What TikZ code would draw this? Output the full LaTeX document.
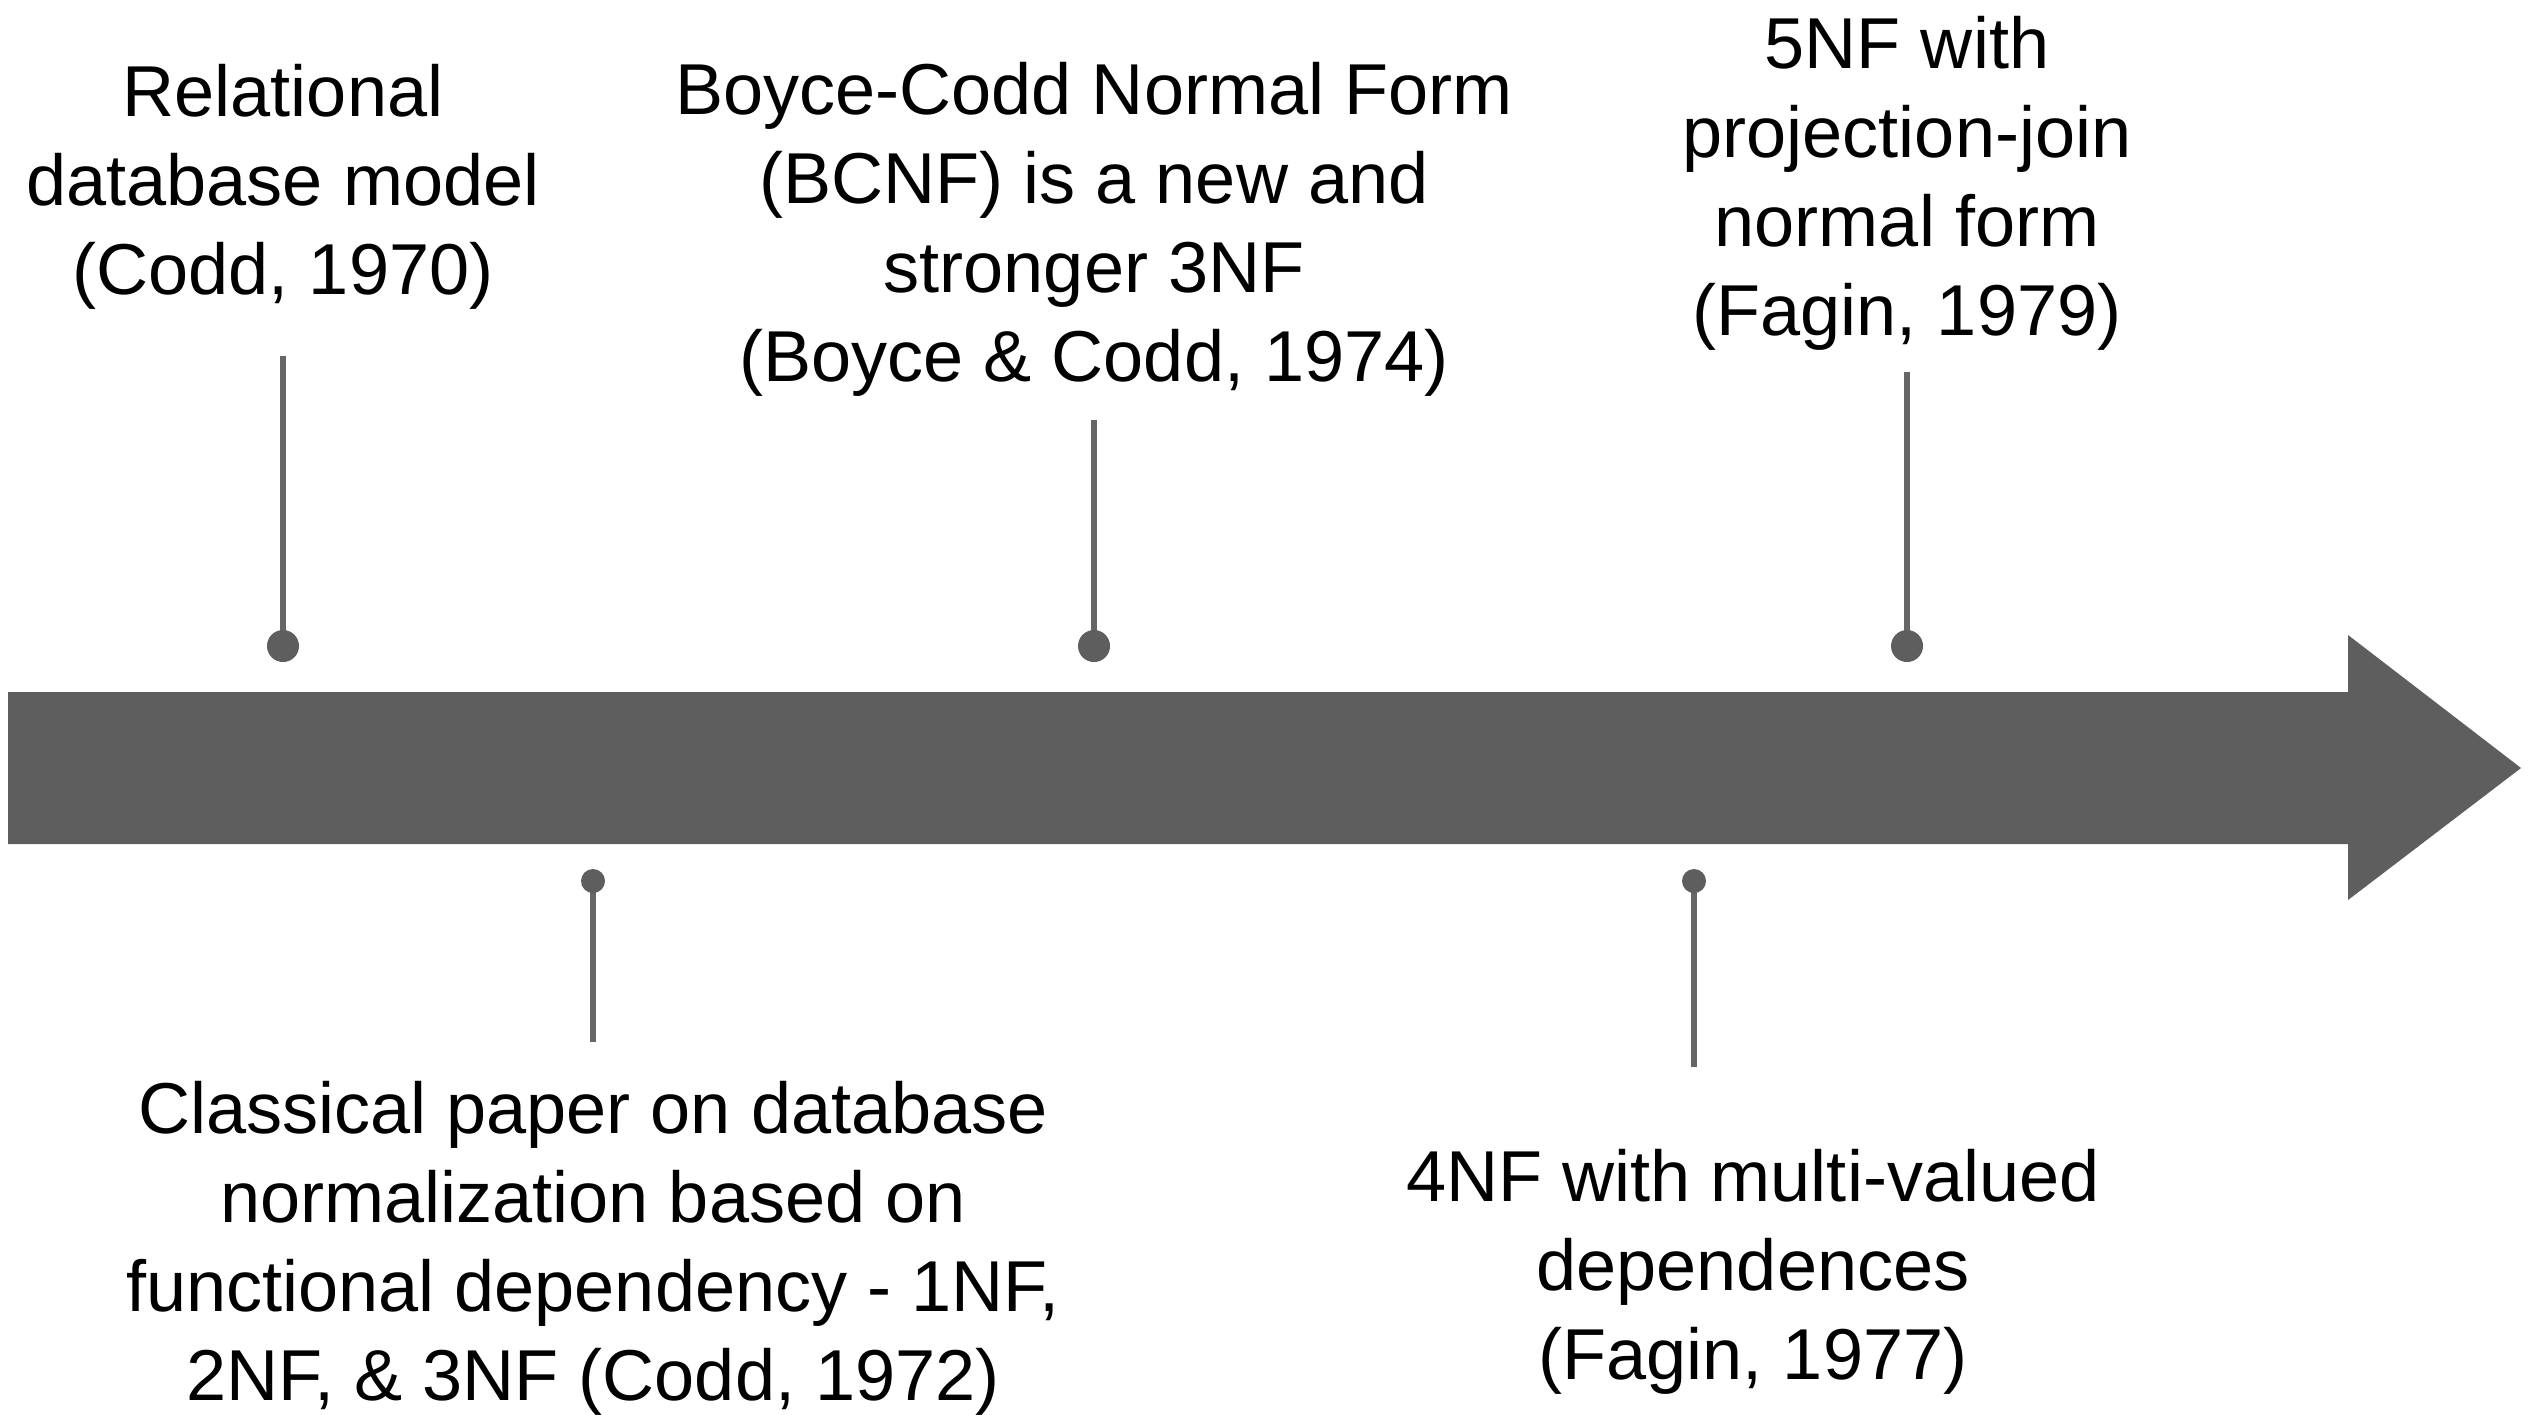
\documentclass[tikz,border=0pt]{standalone}
\usepackage{fontspec}
\setmainfont{Liberation Sans}
\definecolor{axisgray}{RGB}{94,94,94}
\definecolor{stemgray}{RGB}{102,102,102}

\begin{document}
\begin{tikzpicture}[x=0.01cm, y=-0.01cm,
  stem/.style={draw=stemgray, line width=1.9pt},
  bigdot/.style={fill=axisgray},
  event/.style={align=center, inner sep=0pt, text=black,
    font=\fontsize{20.5}{25.3}\selectfont}]
  \useasboundingbox (0,0) rectangle (2534,1414);

  % the time axis
  \fill[axisgray] (8,692) -- (2348,692) -- (2348,635) -- (2521,768)
    -- (2348,900) -- (2348,844) -- (8,844) -- cycle;

  % pins above the axis
  \coordinate (d1970) at (283,646);  \coordinate (t1970) at (283,356);
  \coordinate (d1974) at (1094,646); \coordinate (t1974) at (1094,420);
  \coordinate (d1979) at (1907,646); \coordinate (t1979) at (1907,372);
  % pins below the axis
  \coordinate (d1972) at (593,881);  \coordinate (t1972) at (593,1042);
  \coordinate (d1977) at (1694,881); \coordinate (t1977) at (1694,1067);

  \draw[stem] (d1970) -- (t1970);
  \draw[stem] (d1974) -- (t1974);
  \draw[stem] (d1979) -- (t1979);
  \draw[stem] (d1972) -- (t1972);
  \draw[stem] (d1977) -- (t1977);
  \fill[bigdot] (d1970) circle (0.16cm);
  \fill[bigdot] (d1974) circle (0.16cm);
  \fill[bigdot] (d1979) circle (0.16cm);
  \fill[bigdot] (d1972) circle (0.12cm);
  \fill[bigdot] (d1977) circle (0.12cm);

  % event texts
  \node[event] (codd70) at (283,187) {Relational\\database model\\(Codd, 1970)};
  \node[event] (bcnf) at (1094,229) {Boyce-Codd Normal Form\\(BCNF) is a new and\\stronger 3NF\\(Boyce \& Codd, 1974)};
  \node[event] (fivenf) at (1907,183) {5NF with\\projection-join\\normal form\\(Fagin, 1979)};
  \node[event] (codd72) at (593,1248) {Classical paper on database\\normalization based on\\functional dependency - 1NF,\\2NF, \& 3NF (Codd, 1972)};
  \node[event] (fournf) at (1753,1272) {4NF with multi-valued\\dependences\\(Fagin, 1977)};
\end{tikzpicture}
\end{document}
